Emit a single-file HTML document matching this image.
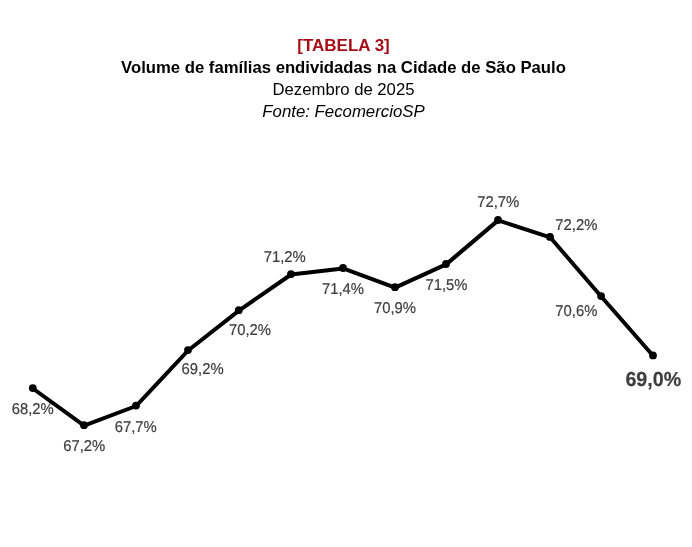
<!DOCTYPE html>
<html><head><meta charset="utf-8"><style>
html,body{margin:0;padding:0;background:#fff;}
body{width:692px;height:547px;overflow:hidden;position:relative;font-family:"Liberation Sans",Arial,sans-serif;}
.t{position:absolute;left:0;width:687px;text-align:center;white-space:nowrap;font-size:16.7px;line-height:20px;color:#000;will-change:transform;}
#t1{top:35.5px;color:#a50d18;font-weight:bold;font-size:17px;}
#t2{top:57.8px;font-weight:bold;}
#t3{top:80px;}
#t4{top:102px;font-style:italic;font-size:16.8px;}
svg{position:absolute;left:0;top:0;will-change:transform;text-rendering:geometricPrecision;}
svg text{font-family:"Liberation Sans",Arial,sans-serif;font-size:15.7px;fill:#3d3d3d;stroke:#3d3d3d;stroke-width:0.2px;}
svg text.b{font-size:20.3px;font-weight:bold;}
</style></head><body>
<div class="t" id="t1">[TABELA 3]</div>
<div class="t" id="t2">Volume de famílias endividadas na Cidade de São Paulo</div>
<div class="t" id="t3">Dezembro de 2025</div>
<div class="t" id="t4">Fonte: FecomercioSP</div>
<svg width="692" height="547" viewBox="0 0 692 547">
<polyline transform="translate(0.1,0.4)" points="32.8,388.1 84,425.2 136,405.6 188,350.1 238.8,310.2 291,274.1 343,268 395,287.2 446,264 498,220 550,236.9 601.1,296.1 653,355.4" fill="none" stroke="#000" stroke-width="4" stroke-linejoin="round"/>
<g fill="#000">
<circle cx="32.8" cy="388.1" r="3.9"/>
<circle cx="84" cy="425.2" r="3.9"/>
<circle cx="136" cy="405.6" r="3.9"/>
<circle cx="188" cy="350.1" r="3.9"/>
<circle cx="238.8" cy="310.2" r="3.9"/>
<circle cx="291" cy="274.1" r="3.9"/>
<circle cx="343" cy="268" r="3.9"/>
<circle cx="395" cy="287.2" r="3.9"/>
<circle cx="446" cy="264" r="3.9"/>
<circle cx="498" cy="220" r="3.9"/>
<circle cx="550" cy="236.9" r="3.9"/>
<circle cx="601.1" cy="296.1" r="3.9"/>
<circle cx="653" cy="355.4" r="3.9"/>
</g>
<text transform="translate(11.65,413.9) scale(0.945,1)">68,2%</text>
<text transform="translate(63.25,450.8) scale(0.945,1)">67,2%</text>
<text transform="translate(114.65,431.7) scale(0.945,1)">67,7%</text>
<text transform="translate(181.55,373.8) scale(0.945,1)">69,2%</text>
<text transform="translate(228.94,334.9) scale(0.945,1)">70,2%</text>
<text transform="translate(263.74,262) scale(0.945,1)">71,2%</text>
<text transform="translate(321.94,293.9) scale(0.945,1)">71,4%</text>
<text transform="translate(373.94,312.9) scale(0.945,1)">70,9%</text>
<text transform="translate(425.44,290) scale(0.945,1)">71,5%</text>
<text transform="translate(477.14,207) scale(0.945,1)">72,7%</text>
<text transform="translate(555.34,230) scale(0.945,1)">72,2%</text>
<text transform="translate(555.34,315.6) scale(0.945,1)">70,6%</text>
<text class="b" transform="translate(625.38,386.1) scale(0.97,1)">69,0%</text>
</svg>
</body></html>
